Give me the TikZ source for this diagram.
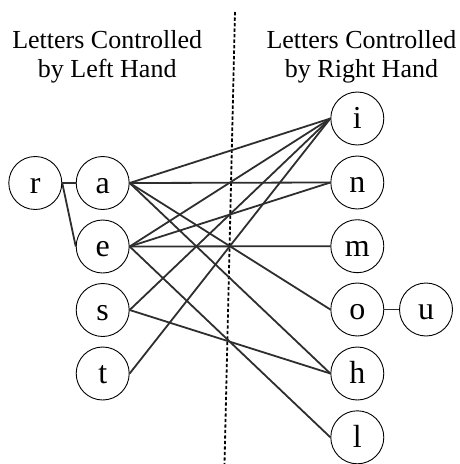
\documentclass[tikz,border=0pt]{standalone}
\usepackage{fontspec}
\setmainfont{Liberation Serif}
\begin{document}
\begin{tikzpicture}[x=1pt,y=-1pt,
  letter/.style={circle,draw,line width=0.9pt,minimum size=53pt,inner sep=0pt,
    font=\fontsize{32}{32}\selectfont,text height=21pt,text depth=0.5pt},
  link/.style={line width=1.8pt,draw=black!82},
  divider/.style={line width=1.8pt,dash pattern=on 3.3pt off 2.2pt},
  title/.style={font=\fontsize{26}{29}\selectfont,anchor=base}]
\useasboundingbox (0,0) rectangle (459,464);
% titles
\node[title] (lt1) at (107.2,48.3) {Letters Controlled};
\node[title] (lt2) at (107.2,77.3) {by Left Hand};
\node[title] (rt1) at (361.5,48.3) {Letters Controlled};
\node[title] (rt2) at (361.5,77.3) {by Right Hand};
% divider
\coordinate (dtop) at (235,12);
\coordinate (dbot) at (224.5,464);
\draw[divider] (dtop) -- (dbot);
% left nodes
\node[letter] (r) at (35.3,183) {r};
\node[letter] (a) at (102.7,183) {a};
\node[letter] (e) at (102.7,246.5) {e};
\node[letter] (s) at (102.7,310) {s};
\node[letter] (t) at (102.7,373.5) {t};
% right nodes
\node[letter] (i) at (357.3,118.5) {i};
\node[letter] (n) at (357.3,182.5) {n};
\node[letter] (m) at (357.3,246.2) {m};
\node[letter] (o) at (357.3,309.5) {o};
\node[letter] (h) at (357.3,373.5) {h};
\node[letter] (l) at (357.3,437.3) {l};
\node[letter] (u) at (426,309.5) {u};
% connectors
\draw[link] (r.east) -- (a.west);
\draw[link] (r.east) -- (e.west);
\draw[link] (o.east) -- (u.west);
\foreach \x/\y in {a/i,a/n,a/o,a/h,e/i,e/n,e/m,e/l,s/i,s/h,t/i}
  \draw[link] (\x.east) -- (\y.west);
\end{tikzpicture}
\end{document}
